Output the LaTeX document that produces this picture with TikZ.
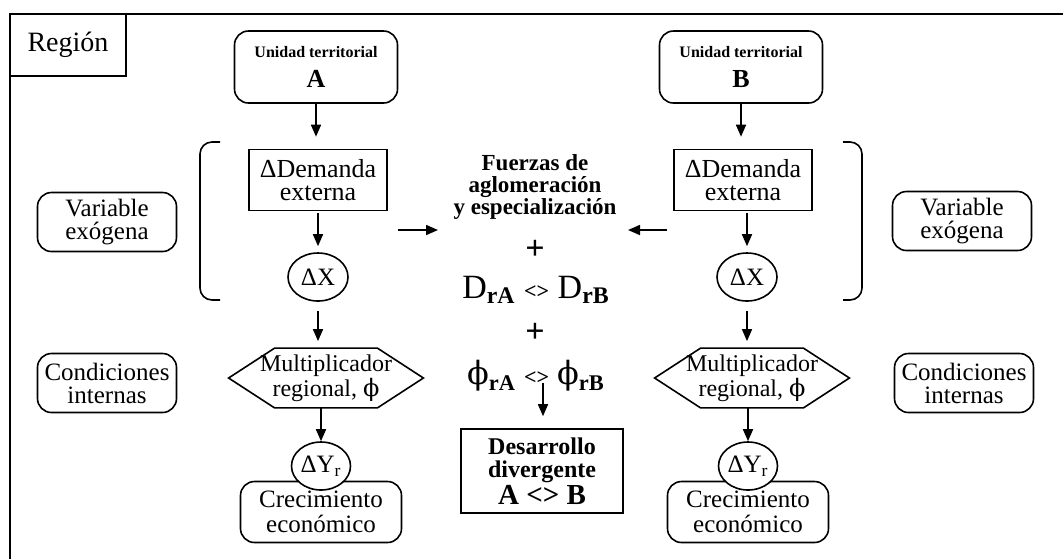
\documentclass[tikz,border=0pt]{standalone}
\usepackage{fontspec}
\setmainfont{Liberation Serif}
\newfontfamily\phifont{DejaVu Serif}
\newcommand\phisym{{\phifont ϕ}}
\usetikzlibrary{shapes.geometric,arrows.meta,calc}

\begin{document}
\begin{tikzpicture}[
    x=0.5pt, y=-0.5pt,
    every node/.style={align=center, inner sep=1pt},
    rbox/.style={draw, line width=0.8pt, rounded corners=7pt},
    sbox/.style={draw, line width=0.8pt},
    bubble/.style={draw, ellipse, line width=0.8pt, fill=white, minimum width=30pt, minimum height=24pt, inner sep=0pt, font=\fontsize{12.5}{12}\selectfont},
    sidebox/.style={rbox, minimum width=69.5pt, minimum height=29.5pt, font=\fontsize{12.5}{11.5}\selectfont},
    unitbox/.style={rbox, minimum width=81.5pt, minimum height=36pt},
    dembox/.style={sbox, minimum width=69pt, minimum height=30.5pt, font=\fontsize{13}{11.5}\selectfont},
    hexnode/.style={minimum width=97pt, minimum height=29.5pt, inner sep=0pt, font=\fontsize{12}{11.5}\selectfont},
    growbox/.style={rbox, minimum width=80.5pt, minimum height=30.5pt, font=\fontsize{12.5}{12.5}\selectfont},
    arr/.style={line width=0.8pt, -{Triangle[length=6pt,width=5pt]}},
]
\useasboundingbox (0,0) rectangle (1063,559);

% frame and title
\draw[line width=1.2pt] (10,559) -- (10,14) -- (1063,14);
\node[sbox, line width=1pt, minimum width=58pt, minimum height=31pt, font=\fontsize{14}{16}\selectfont] (region) at (68,45) {Región};

% side labels
\node[sidebox] (varL) at (107,222) {Variable\\exógena};
\node[sidebox] (condL) at (107,383) {Condiciones\\internas};
\node[sidebox] (varR) at (962,221) {Variable\\exógena};
\node[sidebox] (condR) at (964,383) {Condiciones\\internas};

% unit A
\node[unitbox] (unitA) at (316,67) {{\fontsize{8}{10}\selectfont\bfseries Unidad territorial}\\[3pt]{\fontsize{13}{13}\selectfont\bfseries A}};
\node[dembox] (demA) at (318,180) {ΔDemanda\\externa};
\node[bubble] (dxA) at (318,277) {ΔX};
\node[hexnode] (hexA) at (326,378) {Multiplicador\\regional, \phisym};
\node[growbox] (growA) at (321,512) {Crecimiento\\económico};
\node[bubble, minimum width=29.5pt] (dyA) at (321,466) {ΔY\textsubscript{r}};

% unit B
\node[unitbox] (unitB) at (741,67) {{\fontsize{8}{10}\selectfont\bfseries Unidad territorial}\\[3pt]{\fontsize{13}{13}\selectfont\bfseries B}};
\node[dembox] (demB) at (743,180) {ΔDemanda\\externa};
\node[bubble] (dxB) at (747,277) {ΔX};
\node[hexnode] (hexB) at (752,378) {Multiplicador\\regional, \phisym};
\node[growbox] (growB) at (748,512) {Crecimiento\\económico};
\node[bubble, minimum width=29.5pt] (dyB) at (748,466) {ΔY\textsubscript{r}};

% hexagon outlines
\foreach \h in {hexA,hexB}
    \draw[line width=0.8pt] (\h.west) -- ($(\h.north west)+(46,0)$) -- ($(\h.north east)+(-46,0)$) -- (\h.east)
        -- ($(\h.south east)+(-46,0)$) -- ($(\h.south west)+(46,0)$) -- cycle;

% centre column
\node[font=\fontsize{11.5}{11}\selectfont\bfseries] (forces) at (535,187) {Fuerzas de\\aglomeración\\y especialización};
\node[font=\fontsize{17}{17}\selectfont\bfseries] (plusA) at (535,250) {+};
\node[font=\fontsize{17}{17}\selectfont] (drel) at (536,290) {D\textsubscript{\textbf{rA}} {\fontsize{11}{11}\selectfont\bfseries <>} D\textsubscript{\textbf{rB}}};
\node[font=\fontsize{17}{17}\selectfont\bfseries] (plusB) at (535,333) {+};
\node[font=\fontsize{16}{16}\selectfont] (phirel) at (536,376) {\phisym\textsubscript{\textbf{rA}} {\fontsize{11}{11}\selectfont\bfseries <>} \phisym\textsubscript{\textbf{rB}}};
\node[sbox, minimum width=81pt, minimum height=42pt, font=\fontsize{12}{11.5}\selectfont\bfseries] (diverge) at (542,471) {Desarrollo\\divergente\\{\fontsize{14.5}{14}\selectfont A <> B}};

% brackets
\draw[line width=0.8pt, rounded corners=6pt] (220,142) -- (200,142) -- (200,300) -- (220,300);
\draw[line width=0.8pt, rounded corners=6pt] (843,142) -- (862,142) -- (862,300) -- (843,300);

% arrows
\coordinate (inLs) at (398,230);
\coordinate (inLe) at (438,230);
\coordinate (inRs) at (667,230);
\coordinate (inRe) at (628,230);
\coordinate (outD) at (543,383);
\draw[arr] (inLs) -- (inLe);
\draw[arr] (inRs) -- (inRe);
\draw[arr, shorten >=6pt] (outD) -- (outD |- diverge.north);

\foreach \u in {A,B} {
    \draw[arr, shorten >=6pt] (unit\u.south) -- (unit\u.south |- dem\u.north);
    \draw[arr, shorten <=1pt, shorten >=3pt] (dem\u.south -| dx\u) -- (dx\u.north);
    \draw[arr, shorten <=4.5pt, shorten >=3.5pt] (dx\u.south) -- (dx\u.south |- hex\u.north);
    \draw[arr] (hex\u.south -| dy\u) -- (dy\u.north);
}
\end{tikzpicture}
\end{document}
